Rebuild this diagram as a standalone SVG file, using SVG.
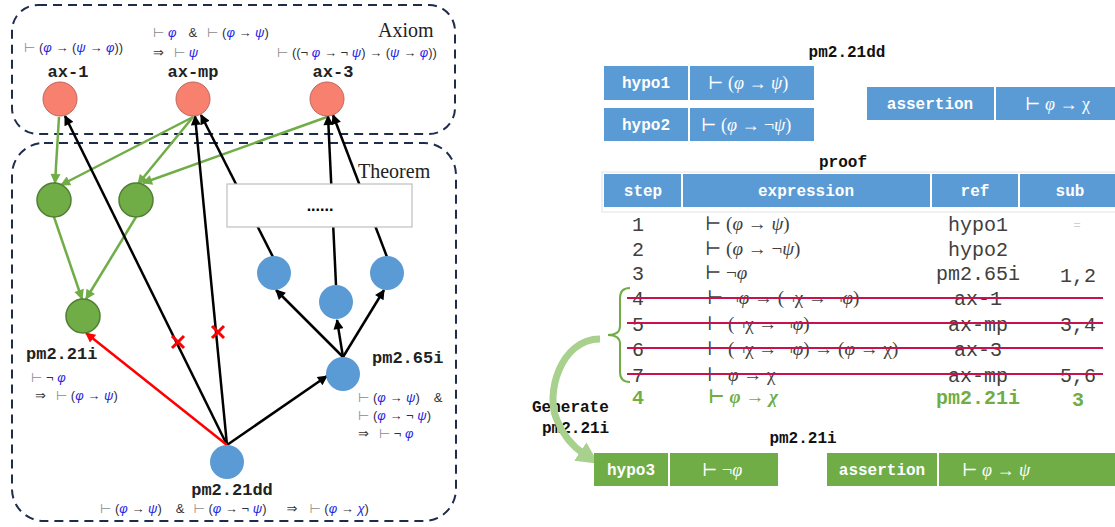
<svg xmlns="http://www.w3.org/2000/svg" width="1115" height="527" viewBox="0 0 1115 527">
<style>
.frame{fill:none;stroke:#1F2D4D;stroke-width:2;stroke-dasharray:9 6}
.ax{fill:#F8806F;stroke:#C0655A;stroke-width:1}
.gn{fill:#70AD47;stroke:#507E32;stroke-width:1.5}
.bl{fill:#5B9BD5}
.blk{stroke:#000;stroke-width:2.5;fill:none}
.grn{stroke:#70AD47;stroke-width:2.5;fill:none}
.red{stroke:#FF0000;stroke-width:2.5;fill:none}
.x{stroke:#FF0000;stroke-width:3}
.lbl{font-family:"Liberation Mono","DejaVu Sans Mono",monospace;font-weight:bold;font-size:17px;fill:#222}
.ttl{font-family:"Liberation Mono","DejaVu Sans Mono",monospace;font-weight:bold;font-size:16px;fill:#111}
.cap{font-family:"Liberation Serif","DejaVu Serif",serif;font-size:20px;fill:#222}
.lf{font-family:"Liberation Sans","DejaVu Sans",sans-serif;font-size:13px;fill:#333}
.g{fill:#8a8a8a}
.v{fill:#2424E6;font-style:italic}
.cellb{fill:#5B9BD5}
.cellg{fill:#70AD47}
.ct{font-family:"Liberation Mono","DejaVu Sans Mono",monospace;font-weight:bold;font-size:16px;fill:#fff}
.cm{font-family:"Liberation Serif","DejaVu Serif",serif;font-size:18px;fill:#fff}
.it{font-style:italic}
.num{font-family:"Liberation Mono","DejaVu Sans Mono",monospace;font-size:20px;fill:#404040}
.ex{font-family:"Liberation Serif","DejaVu Serif",serif;font-size:19px;fill:#404040}
.gr{fill:#70AD47;font-weight:bold}
.strike{stroke:#C8124E;stroke-width:2}
</style>
<defs>
<marker id="ab" viewBox="0 0 10 10" refX="9" refY="5" markerWidth="11" markerHeight="10" markerUnits="userSpaceOnUse" orient="auto"><path d="M0,0 L10,5 L0,10 Z" fill="#000"/></marker>
<marker id="ag" viewBox="0 0 10 10" refX="9" refY="5" markerWidth="11" markerHeight="10" markerUnits="userSpaceOnUse" orient="auto"><path d="M0,0 L10,5 L0,10 Z" fill="#70AD47"/></marker>
<marker id="ar" viewBox="0 0 10 10" refX="9" refY="5" markerWidth="11" markerHeight="10" markerUnits="userSpaceOnUse" orient="auto"><path d="M0,0 L10,5 L0,10 Z" fill="#FF0000"/></marker>
<marker id="acurve" viewBox="0 0 10 10" refX="2" refY="5" markerWidth="22" markerHeight="24" markerUnits="userSpaceOnUse" orient="auto"><path d="M0,0 L10,5 L0,10 Z" fill="#A9D18E"/></marker>
</defs>

<g id="frames">
<rect id="axiom-frame" x="12" y="5" width="443" height="129" rx="26" class="frame"/>
<text x="378" y="37" class="cap">Axiom</text>
<rect id="theorem-frame" x="12" y="143" width="444" height="378" rx="32" class="frame"/>
<text x="358" y="178" class="cap">Theorem</text>
</g>

<g id="connectors">
<line x1="59" y1="117" x2="55" y2="183" class="grn" marker-end="url(#ag)"/>
<line x1="193" y1="117" x2="61" y2="185" class="grn" marker-end="url(#ag)"/>
<line x1="193" y1="117" x2="138" y2="184" class="grn" marker-end="url(#ag)"/>
<line x1="327" y1="117" x2="143" y2="183" class="grn" marker-end="url(#ag)"/>
<line x1="54" y1="217" x2="82" y2="299" class="grn" marker-end="url(#ag)"/>
<line x1="136" y1="217" x2="86" y2="299" class="grn" marker-end="url(#ag)"/>
<line x1="227" y1="445" x2="65" y2="116" class="blk" marker-end="url(#ab)"/>
<line x1="227" y1="445" x2="195" y2="116" class="blk" marker-end="url(#ab)"/>
<line x1="227" y1="445" x2="327" y2="376" class="blk" marker-end="url(#ab)"/>
<line x1="227" y1="445" x2="86" y2="333" class="red" marker-end="url(#ar)"/>
<line x1="343" y1="357" x2="276" y2="290" class="blk" marker-end="url(#ab)"/>
<line x1="343" y1="357" x2="337" y2="320" class="blk" marker-end="url(#ab)"/>
<line x1="343" y1="357" x2="384" y2="290" class="blk" marker-end="url(#ab)"/>
<line x1="273" y1="257" x2="201" y2="115" class="blk" marker-end="url(#ab)"/>
<line x1="336" y1="285" x2="328" y2="116" class="blk" marker-end="url(#ab)"/>
<line x1="387" y1="257" x2="333" y2="115" class="blk" marker-end="url(#ab)"/>
<path d="M172,336 L184,348 M184,336 L172,348" class="x"/>
<path d="M212,326 L224,338 M224,326 L212,338" class="x"/>
</g>

<g id="dots-box">
<rect x="227" y="184" width="185" height="43" fill="#fff" stroke="#BFBFBF" stroke-width="1.2"/>
<text x="320" y="211" text-anchor="middle" font-family="Liberation Sans, sans-serif" font-size="16" font-weight="bold" fill="#000">......</text>
</g>

<g id="ax-1">
<circle cx="60" cy="99" r="17" class="ax"/>
<text x="68" y="77" text-anchor="middle" class="lbl">ax-1</text>
<text x="24" y="52" class="lf"><tspan class="g">⊢</tspan> (<tspan class="v">φ</tspan> → (<tspan class="v">ψ</tspan> → <tspan class="v">φ</tspan>))</text>
</g>
<g id="ax-mp">
<circle cx="193" cy="99" r="17" class="ax"/>
<text x="193" y="77" text-anchor="middle" class="lbl">ax-mp</text>
<text x="153" y="37" class="lf"><tspan class="g">⊢</tspan> <tspan class="v">φ</tspan><tspan dx="12">&amp;</tspan><tspan dx="10" class="g">⊢</tspan> (<tspan class="v">φ</tspan> → <tspan class="v">ψ</tspan>)</text>
<text x="153" y="57" class="lf">⇒<tspan dx="10" class="g">⊢</tspan> <tspan class="v">ψ</tspan></text>
</g>
<g id="ax-3">
<circle cx="327" cy="99" r="17" class="ax"/>
<text x="333" y="77" text-anchor="middle" class="lbl">ax-3</text>
<text x="277" y="57" class="lf"><tspan class="g">⊢</tspan> ((¬ <tspan class="v">φ</tspan> → ¬ <tspan class="v">ψ</tspan>) → (<tspan class="v">ψ</tspan> → <tspan class="v">φ</tspan>))</text>
</g>

<g id="thm-g1"><circle cx="54" cy="200" r="17" class="gn"/></g>
<g id="thm-g2"><circle cx="136" cy="200" r="17" class="gn"/></g>
<g id="pm2.21i">
<circle cx="83" cy="316" r="17" class="gn"/>
<text x="26" y="359" class="lbl">pm2.21i</text>
<text x="31" y="382" class="lf"><tspan class="g">⊢</tspan> ¬ <tspan class="v">φ</tspan></text>
<text x="35" y="400" class="lf">⇒<tspan dx="10" class="g">⊢</tspan> (<tspan class="v">φ</tspan> → <tspan class="v">ψ</tspan>)</text>
</g>
<g id="thm-b1"><circle cx="274" cy="273" r="17" class="bl"/></g>
<g id="thm-b2"><circle cx="336" cy="302" r="17" class="bl"/></g>
<g id="thm-b3"><circle cx="387" cy="273" r="17" class="bl"/></g>
<g id="pm2.65i">
<circle cx="343" cy="374" r="17" class="bl"/>
<text x="372" y="363" class="lbl">pm2.65i</text>
<text x="358" y="402" class="lf"><tspan class="g">⊢</tspan> (<tspan class="v">φ</tspan> → <tspan class="v">ψ</tspan>)<tspan dx="14">&amp;</tspan></text>
<text x="358" y="420" class="lf"><tspan class="g">⊢</tspan> (<tspan class="v">φ</tspan> → ¬ <tspan class="v">ψ</tspan>)</text>
<text x="358" y="438" class="lf">⇒<tspan dx="10" class="g">⊢</tspan> ¬ <tspan class="v">φ</tspan></text>
</g>
<g id="pm2.21dd">
<circle cx="227" cy="462" r="17" class="bl"/>
<text x="232" y="495" text-anchor="middle" class="lbl">pm2.21dd</text>
<text x="100" y="513" class="lf"><tspan class="g">⊢</tspan> (<tspan class="v">φ</tspan> → <tspan class="v">ψ</tspan>)<tspan dx="14">&amp;</tspan><tspan dx="9" class="g">⊢</tspan> (<tspan class="v">φ</tspan> → ¬ <tspan class="v">ψ</tspan>)<tspan dx="20">⇒</tspan><tspan dx="12" class="g">⊢</tspan> (<tspan class="v">φ</tspan> → <tspan class="v">χ</tspan>)</text>
</g>

<g id="pm2.21dd-table">
<text x="847" y="57" text-anchor="middle" class="ttl">pm2.21dd</text>
<rect x="604" y="66" width="84" height="34" class="cellb"/>
<rect x="690" y="66" width="124" height="34" class="cellb"/>
<text x="646" y="88" text-anchor="middle" class="ct">hypo1</text>
<text x="708" y="89" class="cm">⊢ (<tspan class="it">φ</tspan> → <tspan class="it">ψ</tspan>)</text>
<rect x="604" y="108" width="84" height="33" class="cellb"/>
<rect x="690" y="108" width="124" height="33" class="cellb"/>
<text x="646" y="130" text-anchor="middle" class="ct">hypo2</text>
<text x="701" y="131" class="cm">⊢ (<tspan class="it">φ</tspan> → ¬<tspan class="it">ψ</tspan>)</text>
<rect x="867" y="87" width="127" height="33" class="cellb"/>
<rect x="996" y="87" width="119" height="33" class="cellb"/>
<text x="930" y="109" text-anchor="middle" class="ct">assertion</text>
<text x="1025" y="110" class="cm">⊢ <tspan class="it">φ</tspan> → χ</text>
</g>

<g id="proof-table">
<text x="843" y="167" text-anchor="middle" class="ttl">proof</text>
<rect x="602" y="172" width="515" height="40" fill="#fff" stroke="#E3E3E3" stroke-width="1"/>
<rect x="604" y="174" width="77" height="33" class="cellb"/>
<rect x="683" y="174" width="247" height="33" class="cellb"/>
<rect x="932" y="174" width="86" height="33" class="cellb"/>
<rect x="1020" y="174" width="95" height="33" class="cellb"/>
<text x="643" y="196" text-anchor="middle" class="ct">step</text>
<text x="806" y="196" text-anchor="middle" class="ct">expression</text>
<text x="975" y="196" text-anchor="middle" class="ct">ref</text>
<text x="1070" y="196" text-anchor="middle" class="ct">sub</text>

<text x="638" y="231" text-anchor="middle" class="num">1</text>
<text x="705" y="230" class="ex">⊢ (<tspan class="it">φ</tspan> → <tspan class="it">ψ</tspan>)</text>
<text x="978" y="231" text-anchor="middle" class="num">hypo1</text>
<text x="1077" y="229" text-anchor="middle" class="num" style="fill:#d0d0d0;font-size:12px">=</text>

<text x="638" y="256" text-anchor="middle" class="num">2</text>
<text x="705" y="255" class="ex">⊢ (<tspan class="it">φ</tspan> → ¬<tspan class="it">ψ</tspan>)</text>
<text x="978" y="256" text-anchor="middle" class="num">hypo2</text>

<text x="638" y="280" text-anchor="middle" class="num">3</text>
<text x="705" y="279" class="ex">⊢ ¬<tspan class="it">φ</tspan></text>
<text x="978" y="280" text-anchor="middle" class="num">pm2.65i</text>
<text x="1078" y="282" text-anchor="middle" class="num">1,2</text>

<text x="638" y="305" text-anchor="middle" class="num">4</text>
<text x="707" y="304" class="ex">⊢ ¬<tspan class="it">φ</tspan> → (¬χ → ¬<tspan class="it">φ</tspan>)</text>
<text x="978" y="305" text-anchor="middle" class="num">ax-1</text>

<text x="638" y="331" text-anchor="middle" class="num">5</text>
<text x="707" y="330" class="ex">⊢ (¬χ → ¬<tspan class="it">φ</tspan>)</text>
<text x="978" y="331" text-anchor="middle" class="num">ax-mp</text>
<text x="1078" y="331" text-anchor="middle" class="num">3,4</text>

<text x="638" y="356" text-anchor="middle" class="num">6</text>
<text x="707" y="355" class="ex">⊢ (¬χ → ¬<tspan class="it">φ</tspan>) → (<tspan class="it">φ</tspan> → χ)</text>
<text x="978" y="356" text-anchor="middle" class="num">ax-3</text>

<text x="638" y="382" text-anchor="middle" class="num">7</text>
<text x="707" y="381" class="ex">⊢ <tspan class="it">φ</tspan> → χ</text>
<text x="978" y="382" text-anchor="middle" class="num">ax-mp</text>
<text x="1078" y="382" text-anchor="middle" class="num">5,6</text>

<line x1="627" y1="298" x2="1103" y2="298" class="strike"/>
<line x1="627" y1="323" x2="1103" y2="323" class="strike"/>
<line x1="627" y1="348" x2="1103" y2="348" class="strike"/>
<line x1="627" y1="374" x2="1103" y2="374" class="strike"/>

<text x="638" y="404" text-anchor="middle" class="num gr">4</text>
<text x="708" y="403" class="ex gr">⊢ <tspan class="it">φ</tspan> → <tspan class="it">χ</tspan></text>
<text x="978" y="404" text-anchor="middle" class="num gr">pm2.21i</text>
<text x="1078" y="406" text-anchor="middle" class="num gr">3</text>

<path d="M630,288 Q620,288 620,298 L620,326 Q620,335 608,335 Q620,335 620,344 L620,372 Q620,382 630,382" fill="none" stroke="#70AD47" stroke-width="2"/>
</g>

<g id="generate">
<text x="532" y="412" class="ttl">Generate</text>
<text x="542" y="433" class="ttl">pm2.21i</text>
<path d="M600,339 C560,339 545,395 557,420 C563,435 572,446 584,454" fill="none" stroke="#A9D18E" stroke-width="7" marker-end="url(#acurve)"/>
</g>

<g id="pm2.21i-table">
<text x="803" y="443" text-anchor="middle" class="ttl">pm2.21i</text>
<rect x="594" y="453" width="74" height="33" class="cellg"/>
<rect x="670" y="453" width="108" height="33" class="cellg"/>
<text x="631" y="475" text-anchor="middle" class="ct">hypo3</text>
<text x="702" y="476" class="cm">⊢ ¬<tspan class="it">φ</tspan></text>
<rect x="827" y="453" width="110" height="33" class="cellg"/>
<rect x="939" y="453" width="176" height="33" class="cellg"/>
<text x="882" y="475" text-anchor="middle" class="ct">assertion</text>
<text x="962" y="476" class="cm">⊢ <tspan class="it">φ</tspan> → <tspan class="it">ψ</tspan></text>
</g>
</svg>
